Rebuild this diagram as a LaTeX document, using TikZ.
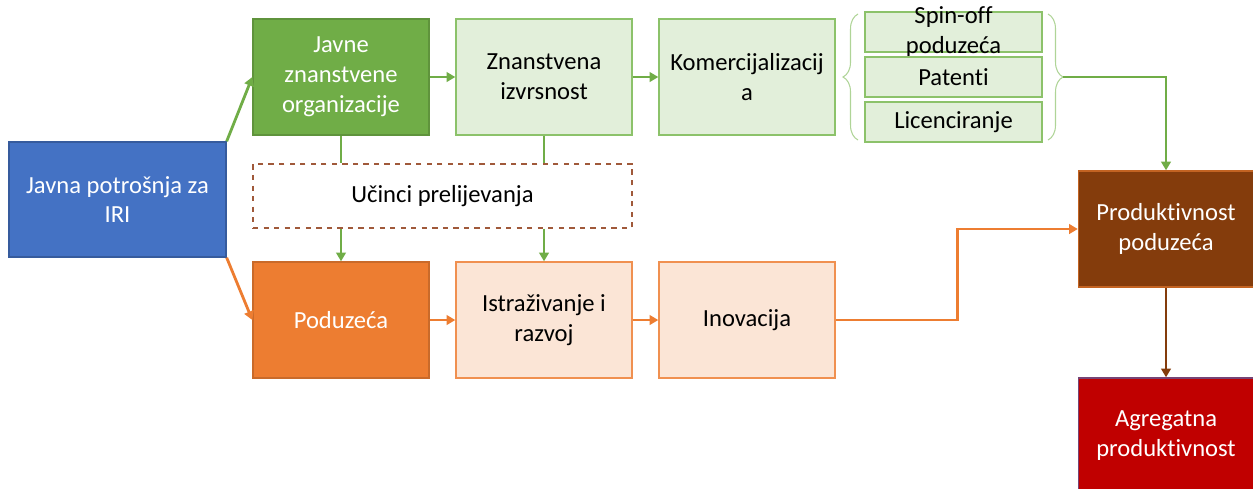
\documentclass[tikz,border=0pt]{standalone}
\usepackage{fontspec}
\setmainfont{Carlito}[Ligatures={NoCommon,NoContextual,NoRequired}]
\usetikzlibrary{arrows.meta,decorations.pathreplacing}

\definecolor{plava}{HTML}{4472C4}
\definecolor{zelena}{HTML}{70AD47}
\definecolor{svijetlozelena}{HTML}{E2EFDA}
\definecolor{rubzelena}{HTML}{8CC26A}
\definecolor{narancasta}{HTML}{ED7D31}
\definecolor{svijetlonarancasta}{HTML}{FBE5D6}
\definecolor{smeda}{HTML}{843C0C}
\definecolor{crtkana}{HTML}{A0593A}
\definecolor{crvena}{HTML}{C00000}

\tikzset{
  kutija/.style={draw, line width=0.8pt, minimum width=3.52cm, minimum height=2.32cm,
    align=center, inner sep=2pt, font=\fontsize{14}{17}\selectfont},
  mala/.style={draw=rubzelena, fill=svijetlozelena, line width=0.8pt, minimum width=3.54cm,
    minimum height=0.8cm, align=center, inner sep=0pt, font=\fontsize{14}{17}\selectfont},
  strela/.style={-{Triangle[length=5pt,width=5.5pt]}, line width=1.6pt},
  linija/.style={line width=1.6pt},
  zagrada/.style={draw=rubzelena!70, line width=0.6pt, decorate,
    decoration={brace, amplitude=0.3cm}},
}

\begin{document}
\begin{tikzpicture}[x=0.02cm, y=-0.02cm]

  % okvir slike
  \useasboundingbox (0,0) rectangle (1253,488);
  \clip (0,0) rectangle (1253,488);

  % ulaz
  \node[kutija, fill=plava, draw=plava!80!black, text=white, minimum width=4.34cm,
    minimum height=2.3cm] (javna) at (117.5,199.5) {Javna potrošnja za\\IRI};

  % gornji red
  \node[kutija, fill=zelena, draw=zelena!85!black, text=white] (org) at (341,77)
    {Javne\\znanstvene\\organizacije};
  \node[kutija, fill=svijetlozelena, draw=rubzelena] (izvrs) at (544,77)
    {Znanstvena\\izvrsnost};
  \node[kutija, fill=svijetlozelena, draw=rubzelena] (komerc) at (747,77)
    {Komercijalizacij\\a};

  % oblici komercijalizacije
  \node[mala, label={[align=center, font=\fontsize{14}{17}\selectfont]center:Spin-off\\poduzeća}]
    (spin) at (953.5,32) {};
  \node[mala] (patenti) at (953.5,77) {Patenti};
  \node[mala] (licenc) at (953.5,122) {Licenciranje};

  \draw[zagrada] (858,140) -- (858,14);
  \draw[zagrada] (1048,14) -- (1048,140);
  \coordinate (vrh) at (1063,77);

  % prelijevanje
  \node[kutija, draw=crtkana, dashed, line width=0.7pt, minimum width=7.58cm,
    minimum height=1.28cm] (prelij) at (442.5,196) {Učinci prelijevanja};

  % donji red
  \node[kutija, fill=narancasta, draw=narancasta!85!black, text=white] (pod) at (341,320)
    {Poduzeća};
  \node[kutija, fill=svijetlonarancasta, draw=narancasta!85] (istraz) at (544,320)
    {Istraživanje i\\razvoj};
  \node[kutija, fill=svijetlonarancasta, draw=narancasta!85] (inov) at (747,320)
    {Inovacija};

  % produktivnost
  \node[kutija, fill=smeda, draw=narancasta!60!smeda, text=white, minimum width=3.5cm]
    (prod) at (1166,229) {Produktivnost\\poduzeća};
  \node[kutija, fill=crvena, draw=plava!60!crvena, text=white, minimum width=3.5cm]
    (agr) at (1166,436) {Agregatna\\produktivnost};

  % strelice
  \draw[strela, zelena] (javna.north east) -- (org.west);
  \draw[strela, narancasta] (javna.south east) -- (pod.west);

  \draw[strela, zelena] (org) -- (izvrs);
  \draw[strela, zelena] (izvrs) -- (komerc);

  \draw[linija, zelena] (org.south) -- (org.south |- prelij.north);
  \draw[linija, zelena] (izvrs.south) -- (izvrs.south |- prelij.north);
  \draw[strela, zelena] (pod.north |- prelij.south) -- (pod.north);
  \draw[strela, zelena] (istraz.north |- prelij.south) -- (istraz.north);

  \draw[strela, narancasta] (pod) -- (istraz);
  \draw[strela, narancasta] (istraz) -- (inov);
  \draw[strela, narancasta] (inov.east) -- ++(122,0) |- (prod.west);

  \draw[strela, zelena] (vrh) -| (prod.north);
  \draw[strela, smeda] (prod.south) -- (agr.north);

\end{tikzpicture}
\end{document}
